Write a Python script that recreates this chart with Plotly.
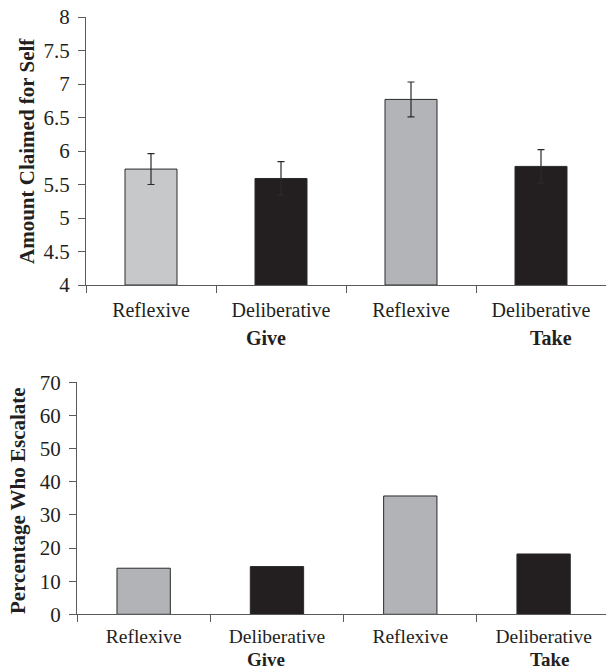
import plotly.graph_objects as go

conditions = ["Reflexive", "Deliberative", "Reflexive", "Deliberative"]
groups = ["Give", "Take"]
claimed_means = [5.73, 5.59, 6.77, 5.77]
claimed_se = [0.23, 0.25, 0.26, 0.25]
escalate_pct = [13.9, 14.4, 35.7, 18.2]
top_colors = ["#c7c8ca", "#231f20", "#b3b4b7", "#231f20"]
bottom_colors = ["#b2b3b6", "#231f20", "#b2b3b6", "#231f20"]
top_yticks = [4, 4.5, 5, 5.5, 6, 6.5, 7, 7.5, 8]
bottom_yticks = [0, 10, 20, 30, 40, 50, 60, 70]

W, H = 606, 672
FONT = "Liberation Serif"
AX = "#5a5a5a"
TXT = "#231f20"
FS = 21
FSX = 20
idx = list(range(len(conditions)))

fig = go.Figure()
fig.add_trace(go.Bar(
    x=idx, y=[v - 4 for v in claimed_means], base=4, width=0.4,
    marker=dict(color=top_colors, line=dict(color="#2a2a2a", width=1)),
    error_y=dict(type="data", array=claimed_se, color="#2a2a2a", thickness=1.2, width=3.5),
    xaxis="x", yaxis="y", showlegend=False))
fig.add_trace(go.Bar(
    x=idx, y=escalate_pct, width=0.4,
    marker=dict(color=bottom_colors, line=dict(color="#2a2a2a", width=1)),
    xaxis="x2", yaxis="y2", showlegend=False))

def px_x(p):
    return p / W

def px_y(p):
    return 1 - p / H

def x_axis(fs):
    return dict(
        tickmode="array", tickvals=idx, ticktext=conditions,
        ticks="outside", ticklen=0, tickcolor=AX,
        showline=True, linecolor=AX, linewidth=1.3,
        showgrid=False, zeroline=False, automargin=False,
        tickfont=dict(family=FONT, size=fs, color=TXT),
        minor=dict(tickmode="array", tickvals=[-0.5, 0.5, 1.5, 2.5], ticks="outside",
                   ticklen=7, tickcolor=AX, tickwidth=1.2, showgrid=False),
        fixedrange=True,
    )

common_y = dict(
    tickmode="array", ticks="outside", ticklen=7, tickcolor=AX, tickwidth=1.2,
    showline=True, linecolor=AX, linewidth=1.3, showgrid=False, zeroline=False,
    automargin=False,
    tickfont=dict(family=FONT, size=FS, color=TXT),
    ticklabelstandoff=4,
)

fig.update_layout(
    width=W, height=H, autosize=False, margin=dict(l=0, r=0, t=0, b=0, pad=0),
    paper_bgcolor="white", plot_bgcolor="white",
    bargap=0.6,
    xaxis=dict(domain=[px_x(86), 1], range=[-0.5, 3.5], anchor="y", ticklabelstandoff=7, **x_axis(FSX)),
    yaxis=dict(domain=[px_y(285), px_y(17)], range=[4, 8], anchor="x",
               tickvals=top_yticks, ticktext=[f"{t:g}" for t in top_yticks], **common_y),
    xaxis2=dict(domain=[px_x(77), 1], range=[-0.5, 3.468], anchor="y2", ticklabelstandoff=4, **x_axis(19.5)),
    yaxis2=dict(domain=[px_y(614.3), px_y(382.3)], range=[0, 70], anchor="x2",
                tickvals=bottom_yticks, ticktext=[str(t) for t in bottom_yticks], **common_y),
)

ann = []
for xa, ya, dy, shifts, fs in [("x", "y domain", -53, (-15, 10), FSX), ("x2", "y2 domain", -45, (-11, 6), 19)]:
    for g, xi, sh in zip(groups, [1, 3], shifts):
        ann.append(dict(text=f"<b>{g}</b>", x=xi, y=0, xref=xa, yref=ya, yshift=dy, xshift=sh,
                        showarrow=False, yanchor="middle", xanchor="center",
                        font=dict(family=FONT, size=fs, color=TXT)))
ann.append(dict(text="<b>Amount Claimed for Self</b>", x=px_x(27), y=px_y(151), xref="paper", yref="paper",
                textangle=-90, showarrow=False, xanchor="center", yanchor="middle",
                font=dict(family=FONT, size=FS, color=TXT)))
ann.append(dict(text="<b>Percentage Who Escalate</b>", x=px_x(18), y=px_y(501), xref="paper", yref="paper",
                textangle=-90, showarrow=False, xanchor="center", yanchor="middle",
                font=dict(family=FONT, size=FS, color=TXT)))
fig.update_layout(annotations=ann)

fig.write_html("out.html", config={"responsive": False, "displayModeBar": False},
               post_script="document.body.style.margin='0';document.body.style.overflow='hidden';")
